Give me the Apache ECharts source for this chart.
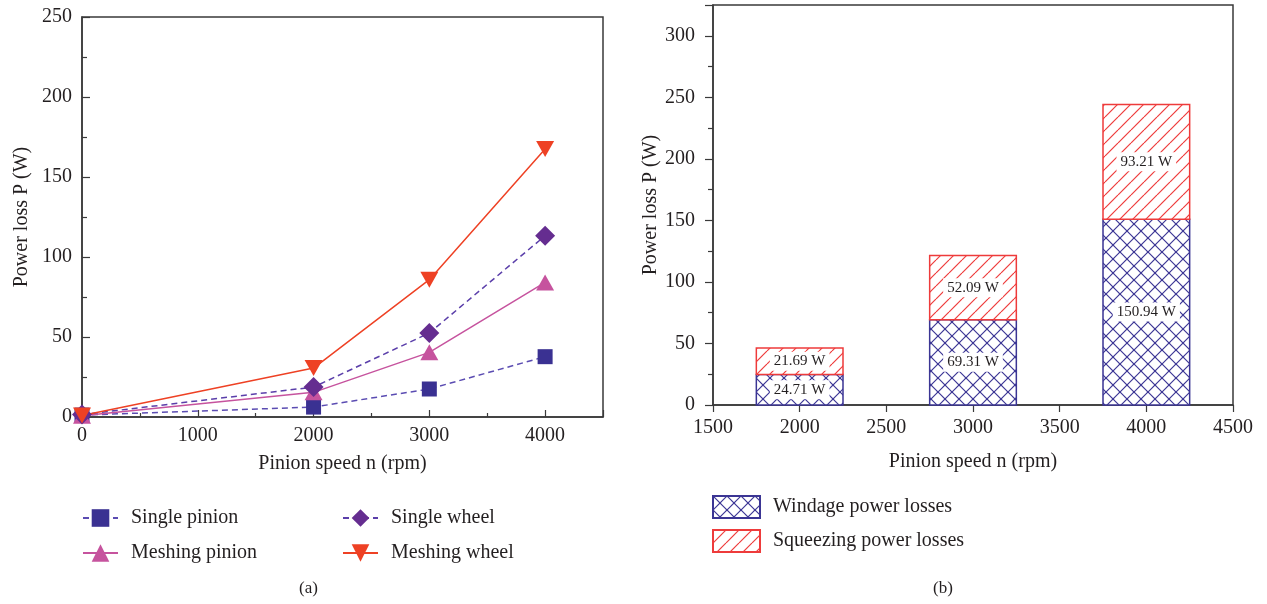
<!DOCTYPE html>
<html><head><meta charset="utf-8">
<script src="https://cdn.jsdelivr.net/npm/echarts@6/dist/echarts.min.js"></script>
<style>html,body{margin:0;padding:0;background:#fff}#c{width:1267px;height:604px}</style>
</head><body><div id="c"></div>
<script>
// ---- data ----
const speedsA = [0, 2000, 3000, 4000];
const singlePinion = [1.2, 6.2, 17.5, 37.7];
const meshingPinion = [0.8, 15.4, 40.4, 84.1];
const singleWheel = [1.5, 18.7, 52.5, 113.3];
const meshingWheel = [0.9, 30.6, 85.8, 167.5];
const speedsB = [2000, 3000, 4000];
const windage = [24.71, 69.31, 150.94];
const squeezing = [21.69, 52.09, 93.21];
const namesA = ['Single pinion', 'Meshing pinion', 'Single wheel', 'Meshing wheel'];
const namesB = ['Windage power losses', 'Squeezing power losses'];
const barSpan = 500; // bar width in rpm units

function pair(xs, ys) { return xs.map((x, i) => [x, ys[i]]); }

function hatch(kind, color) {
  const s = kind === 'cross' ? 14 : 13;
  const c = document.createElement('canvas');
  c.width = s; c.height = s;
  const g = c.getContext('2d');
  g.fillStyle = '#fff'; g.fillRect(0, 0, s, s);
  g.strokeStyle = color; g.lineWidth = 1.2;
  for (const k of [-s, 0, s]) {
    g.beginPath(); g.moveTo(k, s); g.lineTo(k + s, 0); g.stroke();
    if (kind === 'cross') { g.beginPath(); g.moveTo(k, 0); g.lineTo(k + s, s); g.stroke(); }
  }
  return { image: c, repeat: 'repeat' };
}

const FONT = 'Liberation Serif';
const TXT = '#231f20';
const AX = '#3a3a3a';
const blue = '#3B3594';
const red = '#EE3B3B';
const crossFill = hatch('cross', blue);
const lineFill = hatch('line', red);
const fmt = v => String(v);

function barRenderer(fill, stroke) {
  return function (params, api) {
    const x = api.value(0), base = api.value(1), v = api.value(2);
    const p0 = api.coord([x - barSpan / 2, base]);
    const p1 = api.coord([x + barSpan / 2, base + v]);
    return {
      type: 'rect',
      shape: { x: p0[0], y: p1[1], width: p1[0] - p0[0], height: p0[1] - p1[1] },
      style: { fill: fill, stroke: stroke, lineWidth: 1.5 },
      textContent: {
        style: { text: v.toFixed(2) + ' W', font: '15px "Liberation Serif"', fill: TXT,
          backgroundColor: '#fff', padding: [2, 4] }
      },
      textConfig: { position: 'inside' }
    };
  };
}

const chart = echarts.init(document.getElementById('c'), null, { renderer: 'canvas' });
chart.setOption({
  animation: false,
  textStyle: { fontFamily: FONT, color: TXT },
  grid: [
    { left: 82, right: 664, top: 17, bottom: 187, show: true, borderColor: AX, borderWidth: 1.5 },
    { left: 713, right: 34, top: 5, bottom: 199, show: true, borderColor: AX, borderWidth: 1.5 }
  ],
  xAxis: [
    { gridIndex: 0, type: 'value', min: 0, max: 4500, interval: 1000,
      name: 'Pinion speed n (rpm)', nameLocation: 'middle', nameGap: 37,
      nameTextStyle: { fontFamily: FONT, fontSize: 20, color: TXT },
      axisLine: { lineStyle: { color: AX, width: 1.5 } },
      axisTick: { inside: true, length: 7, lineStyle: { color: AX, width: 1.2 } },
      minorTick: { show: true, splitNumber: 2, length: 4, lineStyle: { color: AX, width: 1.2 } },
      axisLabel: { fontFamily: FONT, fontSize: 20, color: TXT, margin: 9, showMaxLabel: false, formatter: fmt },
      splitLine: { show: false } },
    { gridIndex: 1, type: 'value', min: 1500, max: 4500, interval: 500,
      name: 'Pinion speed n (rpm)', nameLocation: 'middle', nameGap: 47,
      nameTextStyle: { fontFamily: FONT, fontSize: 20, color: TXT },
      axisLine: { lineStyle: { color: AX, width: 1.5 } },
      axisTick: { inside: false, length: 7, lineStyle: { color: AX, width: 1.2 } },
      axisLabel: { fontFamily: FONT, fontSize: 20, color: TXT, margin: 13, formatter: fmt },
      splitLine: { show: false } }
  ],
  yAxis: [
    { gridIndex: 0, type: 'value', min: 0, max: 250, interval: 50,
      name: 'Power loss P (W)', nameLocation: 'middle', nameGap: 50,
      nameTextStyle: { fontFamily: FONT, fontSize: 20, color: TXT },
      axisLine: { lineStyle: { color: AX, width: 1.5 } },
      axisTick: { inside: true, length: 8, lineStyle: { color: AX, width: 1.2 } },
      minorTick: { show: true, splitNumber: 2, length: 5, lineStyle: { color: AX, width: 1.2 } },
      axisLabel: { fontFamily: FONT, fontSize: 20, color: TXT, margin: 10, formatter: fmt },
      splitLine: { show: false } },
    { gridIndex: 1, type: 'value', min: 0, max: 325, interval: 50,
      name: 'Power loss P (W)', nameLocation: 'middle', nameGap: 52,
      nameTextStyle: { fontFamily: FONT, fontSize: 20, color: TXT },
      axisLine: { lineStyle: { color: AX, width: 1.5 } },
      axisTick: { inside: false, length: 8, lineStyle: { color: AX, width: 1.2 } },
      minorTick: { show: true, splitNumber: 2, length: 5, lineStyle: { color: AX, width: 1.2 } },
      axisLabel: { fontFamily: FONT, fontSize: 20, color: TXT, margin: 18, showMaxLabel: false, formatter: fmt },
      splitLine: { show: false } }
  ],
  legend: [
    { data: [namesA[0], namesA[1]], orient: 'vertical', left: 82, top: 508, padding: 0,
      itemWidth: 35, itemHeight: 22, itemGap: 15,
      textStyle: { fontFamily: FONT, fontSize: 20, color: TXT, padding: [0, 0, 0, 8] } },
    { data: [namesA[2], namesA[3]], orient: 'vertical', left: 342, top: 508, padding: 0,
      itemWidth: 35, itemHeight: 22, itemGap: 15,
      textStyle: { fontFamily: FONT, fontSize: 20, color: TXT, padding: [0, 0, 0, 8] } },
    { data: namesB, orient: 'vertical', left: 712, top: 495, padding: 0, icon: 'rect',
      itemWidth: 47, itemHeight: 22, itemGap: 10,
      textStyle: { fontFamily: FONT, fontSize: 20, color: TXT, padding: [0, 0, 0, 8] } }
  ],
  graphic: [
    { type: 'text', left: 299, top: 580, style: { text: '(a)', font: '17px "Liberation Serif"', fill: TXT } },
    { type: 'text', left: 933, top: 580, style: { text: '(b)', font: '17px "Liberation Serif"', fill: TXT } }
  ],
  series: [
    { name: namesA[0], type: 'line', xAxisIndex: 0, yAxisIndex: 0, data: pair(speedsA, singlePinion),
      symbol: 'rect', symbolSize: 15, itemStyle: { color: '#3A3192' },
      lineStyle: { color: '#5B4CB2', width: 1.5, type: [6, 4] } },
    { name: namesA[1], type: 'line', xAxisIndex: 0, yAxisIndex: 0, data: pair(speedsA, meshingPinion),
      symbol: 'triangle', symbolSize: [18, 16], itemStyle: { color: '#C6539E' },
      lineStyle: { color: '#C6539E', width: 1.5 } },
    { name: namesA[2], type: 'line', xAxisIndex: 0, yAxisIndex: 0, data: pair(speedsA, singleWheel),
      symbol: 'diamond', symbolSize: 20, itemStyle: { color: '#652D90' },
      lineStyle: { color: '#5B3FAA', width: 1.5, type: [6, 4] } },
    { name: namesA[3], type: 'line', xAxisIndex: 0, yAxisIndex: 0, data: pair(speedsA, meshingWheel),
      symbol: 'triangle', symbolRotate: 180, symbolSize: [18, 16], itemStyle: { color: '#EE4124' },
      lineStyle: { color: '#EE4124', width: 1.5 } },
    { name: namesB[0], type: 'custom', xAxisIndex: 1, yAxisIndex: 1,
      data: speedsB.map((x, i) => [x, 0, windage[i]]),
      encode: { x: 0, y: 2 },
      itemStyle: { color: crossFill, borderColor: blue, borderWidth: 1.5 },
      renderItem: barRenderer(crossFill, blue) },
    { name: namesB[1], type: 'custom', xAxisIndex: 1, yAxisIndex: 1,
      data: speedsB.map((x, i) => [x, windage[i], squeezing[i]]),
      encode: { x: 0, y: 2 },
      itemStyle: { color: lineFill, borderColor: red, borderWidth: 1.5 },
      renderItem: barRenderer(lineFill, red) }
  ]
});
</script></body></html>
